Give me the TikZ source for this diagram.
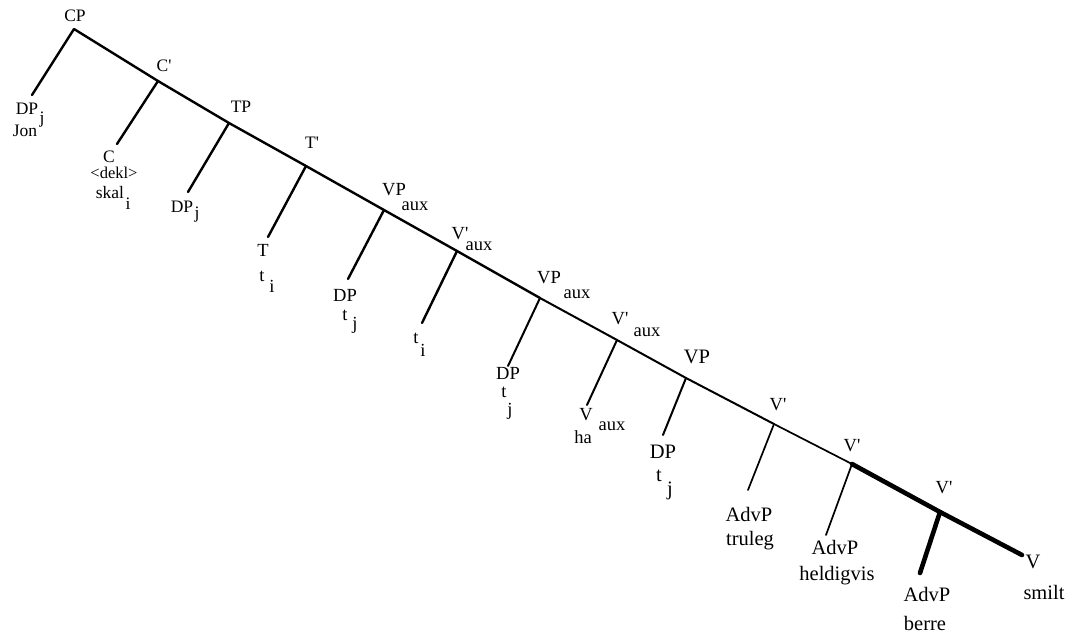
\documentclass[tikz,border=0pt]{standalone}
\usepackage{fontspec}
\setmainfont{Liberation Serif}
\newcommand{\pr}{\textquotesingle}
\begin{document}
\begin{tikzpicture}[x=1pt,y=-1pt,
  br/.style={line width=2.4pt,line cap=round,line join=round},
  brm/.style={line width=2pt,line cap=round},
  brt/.style={line width=1.7pt,line cap=round},
  brk/.style={line width=4.6pt,line cap=round},
  la/.style={inner sep=0pt,font=\fontsize{17.5}{17.5}\selectfont},
  lb/.style={inner sep=0pt,font=\fontsize{18.5}{18.5}\selectfont},
  lc/.style={inner sep=0pt,font=\fontsize{20.5}{20.5}\selectfont}]
\useasboundingbox (0,0) rectangle (1072,635);
% spine coordinates
\coordinate (cp) at (74,29);
\coordinate (cb) at (158,81);
\coordinate (tp) at (229,123);
\coordinate (tb) at (306,166);
\coordinate (vpa1) at (384,210);
\coordinate (vba1) at (457,251);
\coordinate (vpa2) at (540,298);
\coordinate (vba2) at (617,340);
\coordinate (vp) at (686,378);
\coordinate (vb1) at (774,424);
\coordinate (vb2) at (852,464);
\coordinate (vb3) at (940,512);
\coordinate (vend) at (1022,555);
% leaf ends
\coordinate (l1) at (32,95);
\coordinate (l2) at (117,144);
\coordinate (l3) at (188,192);
\coordinate (l4) at (268,237);
\coordinate (l5) at (348,279);
\coordinate (l6) at (422,323);
\coordinate (l7) at (508,366);
\coordinate (l8) at (587,405);
\coordinate (l9) at (663,435);
\coordinate (l10) at (748,490);
\coordinate (l11) at (826,535);
\coordinate (l12) at (920,573);
% branches
\draw[br] (l1) -- (cp) -- (cb) -- (tp) -- (tb) -- (vpa1) -- (vba1) -- (vpa2);
\draw[brm] (vpa2) -- (vba2) -- (vp) -- (vb1);
\draw[brt] (vb1) -- (vb2);
\draw[brk] (vb2) -- (vb3) -- (vend);
\draw[br] (cb) -- (l2);
\draw[br] (tp) -- (l3);
\draw[br] (tb) -- (l4);
\draw[br] (vpa1) -- (l5);
\draw[br] (vba1) -- (l6);
\draw[brm] (vpa2) -- (l7);
\draw[brm] (vba2) -- (l8);
\draw[brm] (vp) -- (l9);
\draw[brt] (vb1) -- (l10);
\draw[brt] (vb2) -- (l11);
\draw[brk] (vb3) -- (l12);
% labels
\node[la] (tcp) at (75,16) {CP};
\node[la] (tdp1) at (27,109) {DP};
\node[la] (tdp1j) at (42,120) {j};
\node[la] (tjon) at (25,131) {Jon};
\node[la] (tcb) at (164,66) {C\pr};
\node[la] (tc) at (109,157) {C};
\node[la,font=\fontsize{16.5}{16.5}\selectfont] (tdekl) at (114,173) {<dekl>};
\node[la] (tskal) at (110,193) {skal};
\node[la] (tskali) at (128,204) {i};
\node[la] (ttp) at (241,107) {TP};
\node[la] (tdp2) at (182,207) {DP};
\node[la] (tdp2j) at (197,215) {j};
\node[la] (ttb) at (312,143) {T\pr};
\node[lb] (tt) at (263,250) {T};
\node[lb] (ttt) at (262,276) {t};
\node[lb] (ttti) at (272,286) {i};
\node[lb] (tvpa1) at (394,190) {VP};
\node[lb] (tvpa1x) at (415,206) {aux};
\node[lb] (tdp3) at (345,295) {DP};
\node[lb] (tdp3t) at (345,315) {t};
\node[lb] (tdp3j) at (355,325) {j};
\node[lb] (tvba1) at (460,234) {V\pr};
\node[lb] (tvba1x) at (479,246) {aux};
\node[lb] (tti) at (416,338) {t};
\node[lb] (ttii) at (423,350) {i};
\node[lb] (tvpa2) at (549,278) {VP};
\node[lb] (tvpa2x) at (577,294) {aux};
\node[lb] (tdp4) at (508,373) {DP};
\node[lb] (tdp4t) at (504,392) {t};
\node[lb] (tdp4j) at (510,411) {j};
\node[lb] (tvba2) at (620,319) {V\pr};
\node[lb] (tvba2x) at (647,332) {aux};
\node[lb] (tv) at (586,415) {V};
\node[lb] (tvx) at (612,426) {aux};
\node[lb] (tha) at (583,437) {ha};
\node[lc] (tvp) at (697,357) {VP};
\node[lc] (tdp5) at (663,452) {DP};
\node[lc] (tdp5t) at (659,476) {t};
\node[lc] (tdp5j) at (670,491) {j};
\node[lb] (tvb1) at (778,405) {V\pr};
\node[lc] (tadv1) at (749,514) {AdvP};
\node[lc] (ttruleg) at (750,541) {truleg};
\node[lb] (tvb2) at (852,446) {V\pr};
\node[lc] (tadv2) at (835,547) {AdvP};
\node[lc] (theld) at (837,576) {heldigvis};
\node[lb] (tvb3) at (944,488) {V\pr};
\node[lc] (tadv3) at (927,594) {AdvP};
\node[lc] (tberre) at (925,623) {berre};
\node[lc] (tvend) at (1033,562) {V};
\node[lc] (tsmilt) at (1044,592) {smilt};
\end{tikzpicture}
\end{document}
